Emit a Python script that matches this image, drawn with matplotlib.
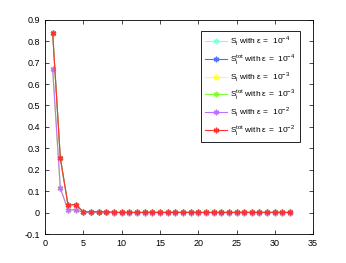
import numpy as np
import matplotlib.pyplot as plt

x = np.arange(1, 33)

# first-order and total indices (same for every epsilon, lower ones hidden below)
s_first = [0.67, 0.115, 0.013, 0.013, 0.002, 0.002, 0.002, 0.002] + [0.0005] * 24
s_total = [0.84, 0.255, 0.037, 0.037, 0.004, 0.004, 0.004, 0.004] + [0.001] * 24

eps_labels = ['-4', '-3', '-2']
first_colors = ['#80ffe0', '#ffff40', '#c070ff']
total_colors = ['#5070ff', '#80ff30', '#ff3030']

plt.rcParams['font.family'] = ['Liberation Sans', 'DejaVu Sans']
plt.rcParams['mathtext.fontset'] = 'custom'
plt.rcParams['mathtext.rm'] = 'Liberation Sans'
fig = plt.figure(figsize=(3.46, 2.63), dpi=100)
ax = fig.add_axes([0.13, 0.11, 0.775, 0.815])

star = (6, 2, 0)
for e, c1, c2 in zip(eps_labels, first_colors, total_colors):
    ax.plot(x, s_first, color=c1, marker=star, markersize=4, lw=0.8,
            label=r'S$_\mathrm{i}$ with ε =  10$^\mathrm{%s}$' % e.replace('-', '−'))
    ax.plot(x, s_total, color=c2, marker=star, markersize=4, lw=0.8,
            label=r'S$_\mathrm{i}^\mathrm{tot}$ with ε =  10$^\mathrm{%s}$' % e.replace('-', '−'))

ax.set_xlim(0, 35)
ax.set_ylim(-0.1, 0.9)
ax.set_xticks(np.arange(0, 36, 5))
ax.set_yticks(np.round(np.arange(-0.1, 0.91, 0.1), 1))
ax.set_yticklabels(['-0.1', '0', '0.1', '0.2', '0.3', '0.4', '0.5', '0.6', '0.7', '0.8', '0.9'])
ax.tick_params(direction='in', labelsize=6.5, length=3, width=0.5, top=True, right=True)
for s in ax.spines.values():
    s.set_linewidth(0.6)

leg = ax.legend(loc='upper right', bbox_to_anchor=(0.951, 0.949), fontsize=6,
                fancybox=False, edgecolor='black', framealpha=1,
                handlelength=2.6, handletextpad=0.4, labelspacing=0.45,
                borderpad=0.5, borderaxespad=0)
leg.get_frame().set_linewidth(0.6)

fig.savefig('out.png', dpi=100)
